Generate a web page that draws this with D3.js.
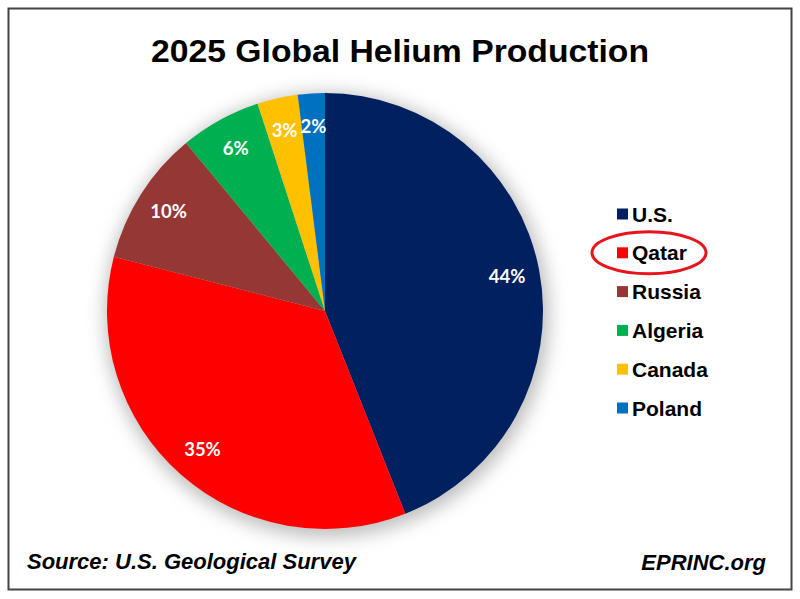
<!DOCTYPE html>
<html>
<head>
<meta charset="utf-8">
<script src="https://cdn.jsdelivr.net/npm/d3@7"></script>
<style>
  body { margin: 0; background: #fff; }
  svg { display: block; }
</style>
</head>
<body>
<div id="chart"></div>
<script>
const countries = ['U.S.', 'Qatar', 'Russia', 'Algeria', 'Canada', 'Poland'];
const shares = [44, 35, 10, 6, 3, 2];
const colors = ['#002060', '#ff0000', '#953735', '#00b050', '#ffc000', '#0070c0'];

const width = 800, height = 599;
const cx = 325, cy = 311, radius = 218;
const sansBold = 'Liberation Sans, Arial, sans-serif';

const svg = d3.select('#chart').append('svg')
    .attr('width', width)
    .attr('height', height);

// soft shadow behind the pie
const defs = svg.append('defs');
defs.append('filter')
    .attr('id', 'glow')
    .attr('x', '-30%').attr('y', '-30%')
    .attr('width', '160%').attr('height', '160%')
    .append('feGaussianBlur')
    .attr('stdDeviation', 9);

// frame
svg.append('rect')
    .attr('x', 8.5).attr('y', 8.5)
    .attr('width', 783).attr('height', 581)
    .attr('fill', '#fff')
    .attr('stroke', '#444')
    .attr('stroke-width', 2);

svg.append('text')
    .attr('x', 400).attr('y', 62)
    .attr('text-anchor', 'middle')
    .attr('textLength', 498)
    .attr('lengthAdjust', 'spacingAndGlyphs')
    .style('font-family', sansBold)
    .style('font-weight', 'bold')
    .style('font-size', '31px')
    .text('2025 Global Helium Production');

const g = svg.append('g').attr('transform', `translate(${cx},${cy})`);

g.append('circle')
    .attr('r', radius + 4)
    .attr('cx', 2).attr('cy', 4)
    .attr('fill', '#bdbdbd')
    .attr('filter', 'url(#glow)');

const pie = d3.pie().sort(null).value(d => d);
const arcs = pie(shares);
const arc = d3.arc().innerRadius(0).outerRadius(radius);
const labelArc = d3.arc().innerRadius(radius * 0.85).outerRadius(radius * 0.85);

g.selectAll('path.slice')
    .data(arcs)
    .join('path')
    .attr('class', 'slice')
    .attr('d', arc)
    .attr('fill', (d, i) => colors[i]);

g.selectAll('text.pct')
    .data(arcs)
    .join('text')
    .attr('class', 'pct')
    .attr('transform', d => `translate(${labelArc.centroid(d)})`)
    .attr('text-anchor', 'middle')
    .attr('dy', '0.35em')
    .style('font-family', 'Lato, Open Sans, sans-serif')
    .style('font-weight', 'bold')
    .style('font-size', '18.5px')
    .attr('fill', '#fff')
    .text(d => d.data + '%');

// legend
const legendY = d3.scalePoint().domain(countries).range([214, 408]);
const legend = svg.append('g');
const items = legend.selectAll('g')
    .data(countries)
    .join('g')
    .attr('transform', d => `translate(617,${legendY(d)})`);

items.append('rect')
    .attr('x', 0).attr('y', -5.5)
    .attr('width', 11).attr('height', 11)
    .attr('fill', (d, i) => colors[i]);

items.append('text')
    .attr('x', 15).attr('dy', '0.36em')
    .style('font-family', sansBold)
    .style('font-weight', 'bold')
    .style('font-size', '21px')
    .text(d => d);

// highlight ring around Qatar
legend.append('ellipse')
    .attr('cx', 649).attr('cy', legendY('Qatar'))
    .attr('rx', 57).attr('ry', 21)
    .attr('fill', 'none')
    .attr('stroke', '#e8141c')
    .attr('stroke-width', 3);

svg.append('text')
    .attr('x', 27).attr('y', 569)
    .style('font-family', sansBold)
    .style('font-weight', 'bold')
    .style('font-style', 'italic')
    .style('font-size', '22px')
    .text('Source: U.S. Geological Survey');

svg.append('text')
    .attr('x', 766).attr('y', 570)
    .attr('text-anchor', 'end')
    .style('font-family', sansBold)
    .style('font-weight', 'bold')
    .style('font-style', 'italic')
    .style('font-size', '22px')
    .text('EPRINC.org');
</script>
</body>
</html>
